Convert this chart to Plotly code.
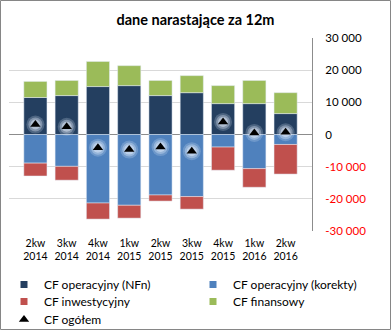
import plotly.graph_objects as go

categories = ["2kw<br>2014", "3kw<br>2014", "4kw<br>2014", "1kw<br>2015", "2kw<br>2015",
              "3kw<br>2015", "4kw<br>2015", "1kw<br>2016", "2kw<br>2016"]
cf_nfn = [11500, 12100, 14900, 15200, 12100, 13000, 9600, 9600, 6500]
cf_korekty = [-8900, -9900, -21300, -22000, -18800, -19300, -3900, -10600, -3100]
cf_inwest = [-4000, -4300, -5000, -4000, -1900, -3900, -7200, -5800, -9200]
cf_finans = [5000, 4700, 7800, 6200, 4700, 5300, 5600, 7200, 6500]
cf_ogolem = [3100, 2400, -4100, -4700, -3900, -5200, 3900, 500, 700]

tick_vals = [30000, 20000, 10000, 0, -10000, -20000, -30000]
tick_text = ["30 000", "20 000", "10 000", "0",
             "<span style='color:#FF0000'>-10 000</span>",
             "<span style='color:#FF0000'>-20 000</span>",
             "<span style='color:#FF0000'>-30 000</span>"]

names = ["CF operacyjny (NFn)", "CF operacyjny (korekty)", "CF inwestycyjny", "CF finansowy"]
colors = ["#243F60", "#4F81BD", "#C0504D", "#9BBB59"]

FONT = "Lato"
L, R, T, B = 9, 79, 38, 99
W, H = 391, 330
pw, ph = W - L - R, H - T - B

# legend slots: (legend id, text-left pixel x, row-centre pixel y)
legend_slots = [("legend", 44, 283), ("legend2", 233, 283), ("legend3", 44, 300),
                ("legend4", 233, 300), ("legend5", 44, 318)]

fig = go.Figure()
for vals, nm, col in zip([cf_nfn, cf_korekty, cf_inwest, cf_finans], names, colors):
    fig.add_trace(go.Bar(x=categories, y=vals, name=nm, marker_color=col, showlegend=False))
# legend entries (small squares as in the reference)
for (lg, _, _), nm, col in zip(legend_slots, names, colors):
    fig.add_trace(go.Scatter(x=[None], y=[None], mode="markers", name=nm, legend=lg,
                             marker=dict(symbol="square", size=7, color=col)))
# soft glow behind triangles
for sz, a in [(18, 0.22), (14, 0.35), (10, 0.5)]:
    fig.add_trace(go.Scatter(x=categories, y=cf_ogolem, mode="markers", showlegend=False,
                             hoverinfo="skip",
                             marker=dict(symbol="circle", size=sz,
                                         color=f"rgba(225,235,250,{a})", line=dict(width=0))))
fig.add_trace(go.Scatter(x=categories, y=cf_ogolem, mode="markers", name="CF ogółem",
                         legend=legend_slots[4][0],
                         marker=dict(symbol="triangle-up", size=9, color="#000000")))

legends = {}
for lg, tx, cy in legend_slots:
    legends[lg] = dict(orientation="v", xanchor="left", yanchor="top",
                       x=(tx - 40 - L) / pw, y=(T + ph - (cy - 13)) / ph,
                       font=dict(size=12, family=FONT), itemwidth=30,
                       bgcolor="rgba(0,0,0,0)", borderwidth=0)

fig.update_layout(
    width=W, height=H,
    margin=dict(l=L, r=R, t=T, b=B, autoexpand=False),
    barmode="relative",
    bargap=0.26,
    plot_bgcolor="white",
    paper_bgcolor="white",
    font=dict(family=FONT, size=11, color="#000000"),
    title=dict(text="<b>dane narastające za 12m</b>", x=0.5, xanchor="center",
               y=1 - 20 / H, yanchor="middle", font=dict(family=FONT, size=14.5, color="#000000")),
    xaxis=dict(showgrid=False, showline=False, ticks="", tickfont=dict(size=10.5),
               tickangle=0, automargin=False, ticklabelstandoff=4),
    yaxis=dict(side="right", range=[-30000, 30000], tickvals=tick_vals, ticktext=tick_text,
               showgrid=True, gridcolor="#D9D9D9", gridwidth=1,
               zeroline=True, zerolinecolor="#8C8C8C", zerolinewidth=1,
               showline=True, linecolor="#8C8C8C", linewidth=1, ticks="",
               ticklabelstandoff=10, tickfont=dict(size=11.5), automargin=False),
    shapes=[dict(type="rect", xref="paper", yref="paper",
                 x0=(0.5 - L) / pw, x1=(W - 0.5 - L) / pw,
                 y0=(T + ph - (H - 0.5)) / ph, y1=(T + ph - 0.5) / ph,
                 line=dict(color="#868686", width=1), fillcolor="rgba(0,0,0,0)", layer="above")],
    **legends,
)

fig.write_html("out.html")
